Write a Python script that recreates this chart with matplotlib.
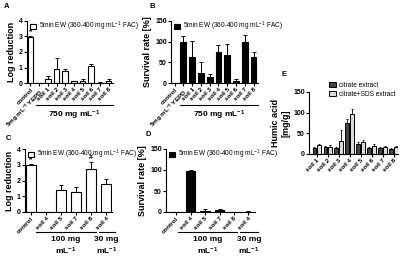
import numpy as np
import matplotlib
matplotlib.use('Agg')
import matplotlib.pyplot as plt

plt.rcParams['font.family'] = ['Liberation Sans', 'DejaVu Sans']
plt.rcParams['font.weight'] = 'bold'
plt.rcParams['mathtext.default'] = 'regular'
plt.rcParams['axes.linewidth'] = 0.8

# data
cats_ab = ['control', '5mg mL$^{-1}$ YEPD', 'soil 1', 'soil 2', 'soil 3', 'soil 4',
           'soil 5', 'soil 6', 'soil 7', 'soil 8']
log_red_a = [2.95, 0.0, 0.25, 0.9, 0.8, 0.1, 0.15, 1.12, 0.02, 0.15]
log_red_a_err = [0.05, 0.02, 0.2, 0.7, 0.1, 0.06, 0.1, 0.12, 0.02, 0.1]
surv_b = [0, 99, 63, 23, 15, 75, 68, 6, 99, 63]
surv_b_err = [0, 14, 38, 28, 6, 17, 27, 4, 18, 13]

cats_cd = ['control', 'soil 4', 'soil 5', 'soil 7', 'soil 8', 'soil 4']
log_red_c = [3.0, 0.0, 1.4, 1.3, 2.75, 1.8]
log_red_c_err = [0.03, 0.0, 0.3, 0.28, 0.45, 0.3]
surv_d = [0, 97, 3, 4, 0, 1]
surv_d_err = [0, 3, 3, 3, 0, 1.5]

cats_e = ['soil 1', 'soil 2', 'soil 3', 'soil 4', 'soil 5', 'soil 6', 'soil 7', 'soil 8']
citrate = [15, 16, 15, 75, 25, 15, 14, 12]
citrate_err = [3, 3, 3, 10, 3, 3, 3, 2]
citrate_sds = [21, 18, 32, 97, 30, 20, 16, 16]
citrate_sds_err = [3, 4, 25, 12, 3, 4, 3, 3]

legend_ew = '5min EW (360-400 mg mL$^{-1}$ FAC)'

W, H = 400, 257
fig = plt.figure(figsize=(W / 100, H / 100), dpi=100)


def ax_px(x0, y0, x1, y1):
    return fig.add_axes([x0 / W, 1 - y1 / H, (x1 - x0) / W, (y1 - y0) / H])


def style(ax, labels, ylim, yticks, ylabel):
    ax.spines['top'].set_visible(False)
    ax.spines['right'].set_visible(False)
    ax.set_ylim(*ylim)
    ax.set_yticks(yticks)
    ax.set_xticks(range(len(labels)))
    ax.set_xticklabels(labels, rotation=45, ha='right', rotation_mode='anchor',
                       fontsize=4.5, fontweight='bold')
    ax.tick_params(length=2, width=0.8, pad=1, labelsize=5)
    ax.tick_params(axis='x', labelsize=4.5)
    ax.set_ylabel(ylabel, fontsize=6.5, fontweight='bold', labelpad=2)


def bars(ax, vals, errs, color, lab):
    x = np.arange(len(vals))
    ax.bar(x, vals, 0.65, color=color, edgecolor='black', linewidth=0.8, label=lab)
    ax.errorbar(x, vals, yerr=[np.zeros(len(vals)), errs], fmt='none',
                ecolor='black', elinewidth=0.7, capsize=1.5, capthick=0.7)


def group(ax, x0, x1, y, text, ty):
    ax.plot([x0, x1], [y, y], color='black', lw=0.8, transform=ax.get_xaxis_transform(),
            clip_on=False)
    ax.text((x0 + x1) / 2, ty, text, transform=ax.get_xaxis_transform(), ha='center',
            va='top', fontsize=6, fontweight='bold', linespacing=1.3)


def ew_legend(ax):
    ax.legend(loc='upper left', bbox_to_anchor=(0.0, 1.06), frameon=False,
              handlelength=1.0, handleheight=0.8, handletextpad=0.5, borderaxespad=0,
              prop={'weight': 'normal', 'size': 4.7})


# A
axA = ax_px(27, 21, 113, 83)
bars(axA, log_red_a, log_red_a_err, 'white', legend_ew)
axA.set_xlim(-0.4, 9.5)
style(axA, cats_ab, (0, 4), [0, 1, 2, 3, 4], 'Log reduction')
axA.text(0, 3.1, '*', ha='center', va='bottom', fontsize=6)
group(axA, 0.6, 9.5, -0.36, '750 mg mL$^{-1}$', -0.42)
ew_legend(axA)

# B
axB = ax_px(171, 21, 258, 83)
bars(axB, surv_b, surv_b_err, 'black', legend_ew)
axB.set_xlim(-0.4, 9.5)
style(axB, cats_ab, (0, 150), [0, 50, 100, 150], 'Survival rate [%]')
group(axB, 0.6, 9.5, -0.36, '750 mg mL$^{-1}$', -0.42)
ew_legend(axB)

# C
axC = ax_px(25, 149, 112, 212)
bars(axC, log_red_c, log_red_c_err, 'white', legend_ew)
axC.set_xlim(-0.4, 5.4)
style(axC, cats_cd, (0, 4), [0, 1, 2, 3, 4], 'Log reduction')
axC.text(0, 3.1, '*', ha='center', va='bottom', fontsize=6)
axC.text(4, 3.25, '#', ha='center', va='bottom', fontsize=5)
group(axC, 0.3, 4.3, -0.32, '100 mg\nmL$^{-1}$', -0.38)
group(axC, 4.5, 5.6, -0.32, '30 mg\nmL$^{-1}$', -0.38)
ew_legend(axC)

# D
axD = ax_px(166, 149, 255, 212)
bars(axD, surv_d, surv_d_err, 'black', legend_ew)
axD.set_xlim(-0.7, 5.45)
style(axD, cats_cd, (0, 150), [0, 50, 100, 150], 'Survival rate [%]')
group(axD, 0.15, 4.2, -0.32, '100 mg\nmL$^{-1}$', -0.38)
group(axD, 4.4, 5.65, -0.32, '30 mg\nmL$^{-1}$', -0.38)
ew_legend(axD)

# E
axE = ax_px(309, 92, 398, 154)
xe = np.arange(len(cats_e))
w = 0.36
axE.bar(xe - 0.2, citrate, w, color='#444444', edgecolor='black', linewidth=0.7,
        label='citrate extract')
axE.bar(xe + 0.2, citrate_sds, w, color='#d9d9d9', edgecolor='black', linewidth=0.7,
        label='citrate+SDS extract')
axE.errorbar(xe - 0.2, citrate, yerr=[np.zeros(8), citrate_err], fmt='none', ecolor='black',
             elinewidth=0.6, capsize=1, capthick=0.6)
axE.errorbar(xe + 0.2, citrate_sds, yerr=[np.zeros(8), citrate_sds_err], fmt='none',
             ecolor='black', elinewidth=0.6, capsize=1, capthick=0.6)
axE.set_xlim(-0.7, 7.4)
style(axE, cats_e, (0, 150), [0, 50, 100, 150], 'Humic acid\n[mg/g]')
axE.legend(loc='upper left', bbox_to_anchor=(0.2, 1.2), frameon=False,
           handlelength=1.0, handleheight=0.8, handletextpad=0.5, borderaxespad=0,
           labelspacing=0.25, prop={'weight': 'normal', 'size': 4.7})

# panel letters
for lab, x, y in [('A', 4, 6), ('B', 150, 6), ('C', 6, 138), ('D', 145, 135), ('E', 281, 74)]:
    fig.text(x / W, 1 - y / H, lab, fontsize=5.5, fontweight='bold', va='center')

fig.savefig('out.png', dpi=100)
